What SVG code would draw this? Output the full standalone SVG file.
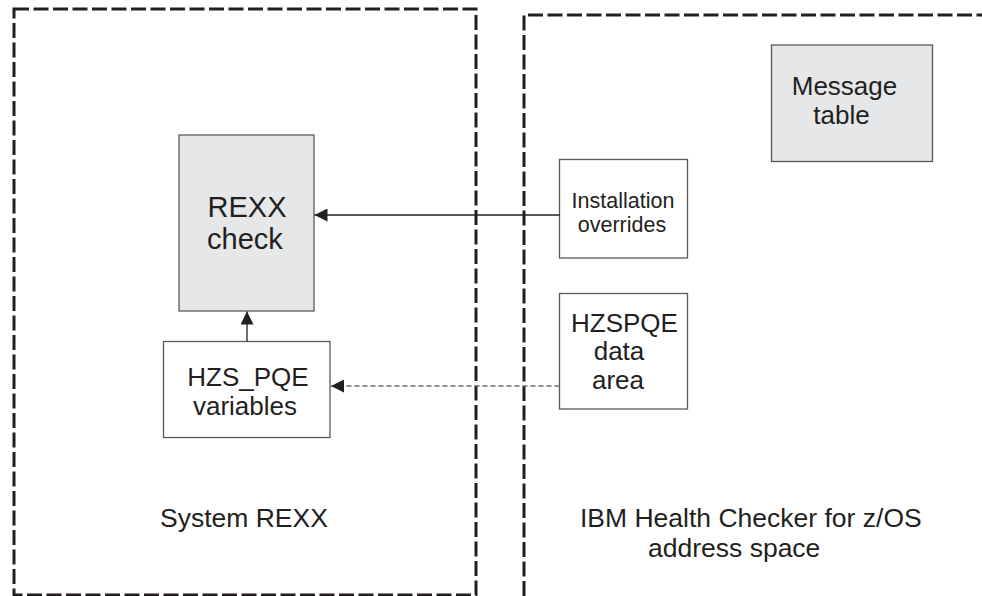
<svg xmlns="http://www.w3.org/2000/svg" width="982" height="596" viewBox="0 0 982 596">
<style>
.region{fill:none;stroke:#231f20;stroke-width:3;stroke-dasharray:15 4.5}
.box{stroke:#58595b;stroke-width:1.3}
.grey{fill:#e6e7e8}
.white{fill:#ffffff}
text{font-family:"Liberation Sans",Arial,Helvetica,sans-serif;fill:#231f20}
.edge{fill:none;stroke:#231f20;stroke-width:1.3}
.dash{fill:none;stroke:#6d6e71;stroke-width:1.3;stroke-dasharray:5 3}
</style>
<defs>
<marker id="ah" markerUnits="userSpaceOnUse" markerWidth="14" markerHeight="13" refX="13" refY="6.5" orient="auto">
<path d="M0,0 L13,6.5 L0,13 Z" fill="#231f20"/>
</marker>
</defs>
<rect width="982" height="596" fill="#ffffff"/>
<g id="system-rexx">
<rect class="region" x="14" y="9" width="462" height="586"/>
<text x="160" y="527" font-size="26.5">System REXX</text>
</g>
<g id="health-checker">
<path class="region" d="M524,596 V15 H984"/>
<text x="580" y="527" font-size="26.5">IBM Health Checker for z/OS</text>
<text x="648" y="557" font-size="26.5">address space</text>
</g>
<g id="rexx-check">
<rect class="box grey" x="179" y="135" width="135" height="176"/>
<text x="247" y="217" font-size="29" text-anchor="middle">REXX</text>
<text x="245" y="249" font-size="29" text-anchor="middle">check</text>
</g>
<g id="hzs-pqe-variables">
<rect class="box white" x="163.5" y="341.5" width="166.5" height="96"/>
<text x="248" y="386" font-size="26" text-anchor="middle">HZS_PQE</text>
<text x="245" y="415" font-size="26" text-anchor="middle">variables</text>
</g>
<g id="installation-overrides">
<rect class="box white" x="559.5" y="159.5" width="128" height="98.5"/>
<text x="623" y="207.5" font-size="21.5" text-anchor="middle">Installation</text>
<text x="622" y="232" font-size="21.5" text-anchor="middle">overrides</text>
</g>
<g id="hzspqe-data-area">
<rect class="box white" x="559.5" y="293.5" width="128" height="115.5"/>
<text x="624.5" y="331.5" font-size="26" text-anchor="middle">HZSPQE</text>
<text x="619" y="360" font-size="26" text-anchor="middle">data</text>
<text x="618" y="388.5" font-size="26" text-anchor="middle">area</text>
</g>
<g id="message-table">
<rect class="box grey" x="771.5" y="45" width="161" height="116.5"/>
<text x="844.5" y="95" font-size="26" text-anchor="middle">Message</text>
<text x="841.5" y="123.5" font-size="26" text-anchor="middle">table</text>
</g>
<g id="connectors">
<line class="edge" x1="559.5" y1="215" x2="314.5" y2="215" marker-end="url(#ah)"/>
<line class="edge" x1="247" y1="341.5" x2="247" y2="311.5" marker-end="url(#ah)"/>
<line class="dash" x1="559.5" y1="386" x2="331" y2="386" marker-end="url(#ah)"/>
</g>
</svg>
